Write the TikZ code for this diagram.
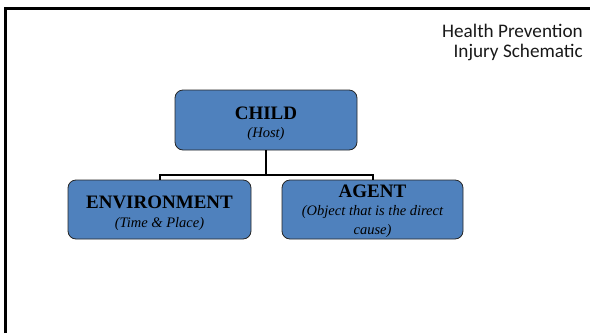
\documentclass[tikz,border=0pt]{standalone}
\usepackage{fontspec}
\setmainfont{Liberation Serif}
\newfontfamily\hdrfont{Carlito}
\usepackage{tikz}
\usetikzlibrary{positioning}
\definecolor{boxblue}{HTML}{4F81BD}
\tikzset{
  blockbox/.style={draw=black!85, line width=0.8pt, fill=boxblue, rounded corners=8pt,
    align=center, inner xsep=2pt, inner ysep=0pt, font=\fontsize{14.5}{19}\selectfont},
  link/.style={line width=2pt, black}
}
\newcommand{\subtxt}[1]{{\itshape #1}}
\newcommand{\headtxt}[2][20pt]{\rule{0pt}{#1}{\fontsize{19}{22}\selectfont\bfseries #2}}

\begin{document}
\begin{tikzpicture}[x=1pt,y=-1pt]
\useasboundingbox (0,0) rectangle (590,333);

% frame
\draw[line width=3pt] (5.5,333) -- (5.5,8.5) -- (590,8.5);

% title
\node[anchor=east, align=right, font=\hdrfont\fontsize{19.2}{20}\selectfont, inner sep=0pt, text=black!90]
  (title) at (583,42) {Health Prevention\\Injury Schematic};

% boxes
\node[blockbox, minimum width=182pt, minimum height=60pt] (child) at (266,120)
  {\headtxt{CHILD}\\[-1pt]\subtxt{(Host)}};
\node[blockbox, minimum width=183pt, minimum height=59pt] (env) at (159.5,209.5)
  {\headtxt{ENVIRONMENT}\\[0pt]\subtxt{(Time \& Place)}};
\node[blockbox, minimum width=181pt, minimum height=59pt] (agent) at (372.5,209.5)
  {\headtxt[17pt]{AGENT}\\[-1pt]\subtxt{(Object that is the direct}\\\subtxt{cause)}};

% links
\draw[link] (child.south) -- ++(0,25) coordinate (bar);
\draw[link] (env.north) |- (bar) -| (agent.north);

\end{tikzpicture}
\end{document}
